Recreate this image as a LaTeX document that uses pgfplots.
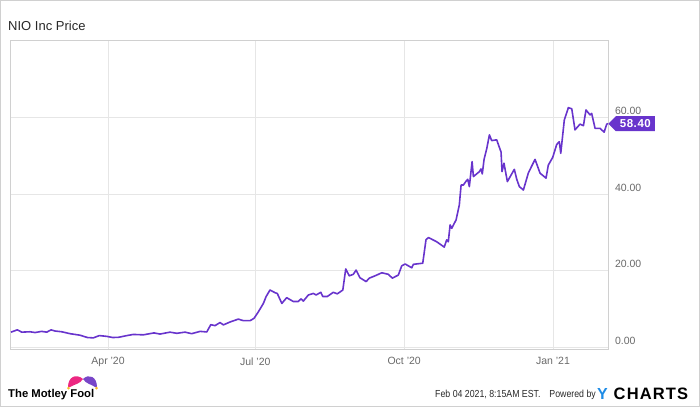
\documentclass[border=0pt]{standalone}
\usepackage{pgfplots}
\pgfplotsset{compat=1.18}
\usepackage{fontspec}
\setmainfont{Liberation Sans}
\usetikzlibrary{shapes.symbols}
\definecolor{nio}{RGB}{104,52,204}
\definecolor{gridc}{RGB}{230,230,230}
\definecolor{framec}{RGB}{208,208,208}
\definecolor{labc}{RGB}{105,105,105}
\definecolor{titlec}{RGB}{40,40,40}
\definecolor{ychb}{RGB}{30,140,230}
\definecolor{mfpink}{RGB}{236,40,130}
\definecolor{mfpurple}{RGB}{120,70,200}
\definecolor{mfyellow}{RGB}{250,190,40}
\begin{document}
\begin{tikzpicture}[x=1pt,y=1pt]
\path[use as bounding box] (0,0) rectangle (700,407);
\draw[framec, line width=1pt] (0.5,0.5) rectangle (699.5,406.5);
\node[anchor=base west, inner sep=0, font=\fontsize{13}{15}\selectfont, text=titlec] at (8,376.3) {NIO Inc Price};
\begin{axis}[
  at={(10pt,58pt)}, anchor=south west, scale only axis,
  width=598pt, height=308pt,
  xmin=30.4, xmax=400, ymin=-0.4, ymax=80,
  xtick={91,182,274,366},
  xticklabels={Apr '20, Jul '20, Oct '20, Jan '21},
  ytick={0,20,40,60},
  yticklabel pos=right,
  grid=major,
  major grid style={draw=gridc, line width=0.8pt},
  axis line style={draw=framec, line width=1pt},
  major tick length=0pt,
  tick label style={font=\fontsize{10.5}{12}\selectfont, text=labc},
  yticklabel style={anchor=west, xshift=3.5pt, yshift=6.5pt},
  xticklabel style={yshift=-5pt},
  /pgf/number format/.cd, fixed, fixed zerofill, precision=2, assume math mode=true,
  /pgfplots/.cd,
  clip=false,
]
\addplot[nio, line width=1.6pt, line join=round] table {
x y
31 4.0
34.9 4.6
37.7 4.0
42.8 4.1
45.9 3.9
50.0 4.2
53.1 4.0
55.8 4.6
58.2 4.3
62.4 4.1
67.5 3.6
73.7 3.2
78.2 2.6
81.9 2.5
85.6 3.1
90.2 2.9
93.9 2.6
97.4 2.65
102.6 3.1
106.6 3.4
112.8 3.3
119.4 3.8
123.1 3.5
129.3 4.0
133.5 3.7
138.6 4.0
142.7 3.6
147.9 4.2
152.0 4.05
154.5 5.95
157.1 5.7
160.2 6.5
162.3 5.9
166.4 6.65
171.5 7.4
174.6 7.0
178.8 7.0
181.2 7.6
183.9 9.3
187.0 11.5
188.7 13.3
191.1 15.0
194.2 14.3
195.6 14.1
198.4 11.5
201.4 13.0
205.5 12.0
208.6 12.0
210.3 12.7
211.7 12.1
214.8 13.7
217.9 14.1
219.6 13.7
222.5 14.4
223.7 13.3
226.5 13.3
230.2 14.4
232.7 14.0
236.1 15.0
237.9 20.5
240.1 18.7
242.6 19.1
244.3 20.2
246.7 18.2
250.5 17.2
252.5 18.1
256.0 18.7
260.2 19.5
264.2 19.1
266.7 18.1
270.4 18.9
272.5 21.3
274.6 21.8
278.7 20.8
279.7 21.7
285.5 22.0
287.5 28.1
289.0 28.7
294.1 27.6
298.8 26.2
300.3 28.1
301.3 27.6
302.4 32.0
303.4 31.1
306.1 33.3
308.1 37.2
309.2 42.4
310.6 42.4
312.1 43.3
313.3 43.9
314.3 42.0
316.0 48.5
316.8 44.6
320.5 45.9
321.5 46.6
322.3 45.3
323.4 49.1
325.1 52.0
326.7 55.5
328.1 54.0
331.2 54.2
333.9 51.0
334.5 45.9
335.7 48.1
337.8 43.3
342.1 46.5
343.6 43.9
345.2 42.0
347.7 41.1
350.8 45.6
354.9 49.1
358.0 45.5
361.7 44.2
363.1 47.6
365.8 49.6
368.3 53.0
369.9 53.7
370.8 50.7
373.0 59.4
375.5 62.6
377.6 62.3
379.6 56.8
382.7 58.3
384.8 57.9
386.4 62.0
388.9 60.7
389.9 61.1
392.0 57.2
395.1 57.2
397.6 56.2
399.2 58.3
400 58.4
};
\node[signal, signal to=west, fill=nio, text=white, anchor=west,
  font=\fontsize{11.5}{12}\selectfont\bfseries, inner xsep=4pt, inner ysep=2.2pt,
  minimum height=15pt] at (axis cs:400,58.4) {\addfontfeature{LetterSpace=5}58.40};
\end{axis}
% Motley Fool logo
\node[anchor=base west, inner sep=0, font=\fontsize{11.3}{13}\selectfont\bfseries] at (8,10) {The Motley Fool};
\fill[mfpink] (68,20) .. controls (68,30) and (76,34) .. (83,28) .. controls (80,23) and (75,23) .. (70,20) -- cycle;
\fill[mfpurple] (97,20) .. controls (97,30) and (89,34) .. (83,28) .. controls (86,23) and (91,23) .. (95,20) -- cycle;
\fill[mfyellow] (68.5,19) circle (1.5);
\fill[mfyellow] (96.5,19) circle (1.5);
% footer
\node[anchor=base west, inner sep=0, font=\fontsize{10.2}{12}\selectfont, text=titlec] at (435,9.5) {\scalebox{0.86}[1]{Feb 04 2021, 8:15AM EST.}};
\node[anchor=base east, inner sep=0, font=\fontsize{10.2}{12}\selectfont, text=titlec] at (596,9.5) {\scalebox{0.86}[1]{Powered by}};
\node[anchor=base west, inner sep=0, font=\fontsize{16}{18}\selectfont\bfseries, text=ychb] at (597,8) {Y};
\node[anchor=base west, inner sep=0, font=\fontsize{16.5}{18}\selectfont\bfseries, text=black] at (613.5,8) {\addfontfeature{LetterSpace=7}CHARTS};
\end{tikzpicture}
\end{document}
